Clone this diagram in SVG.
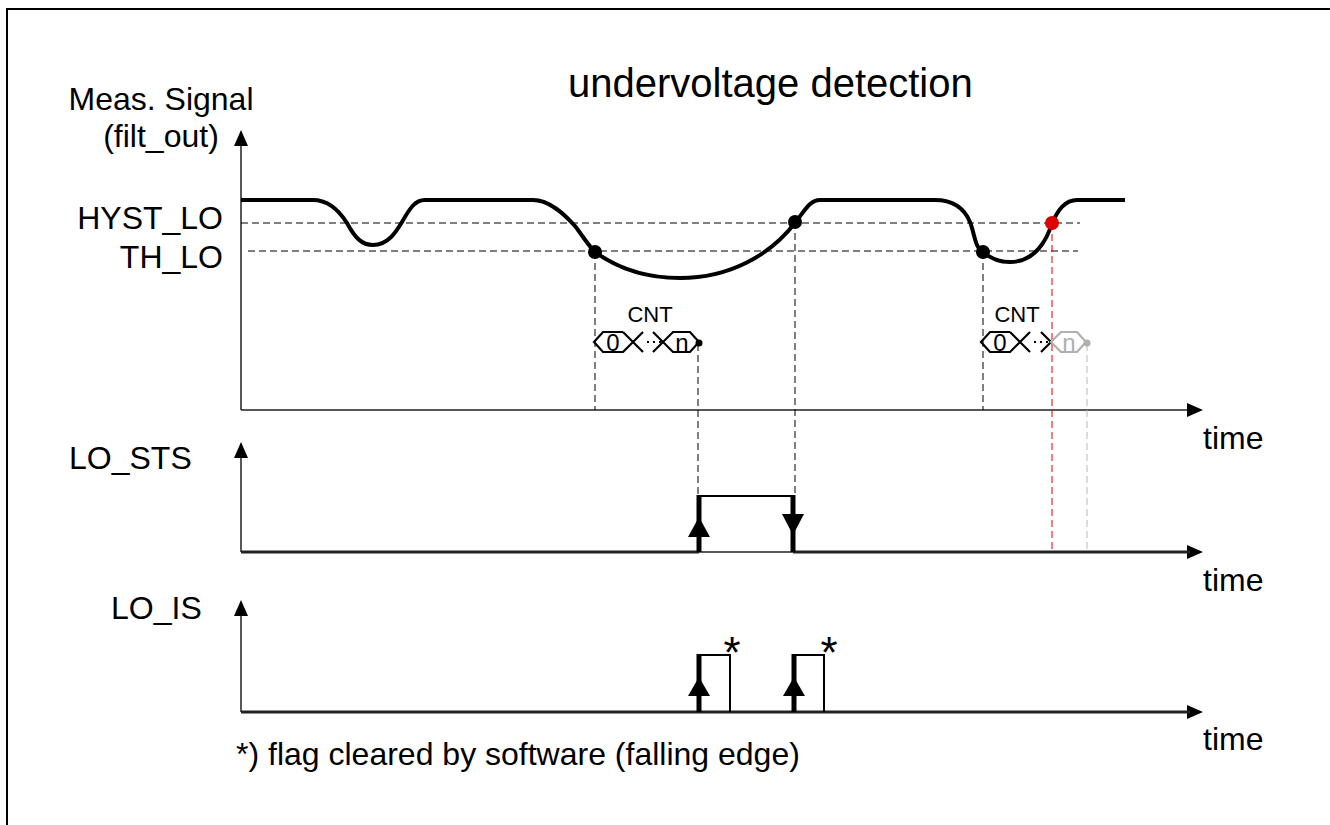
<svg xmlns="http://www.w3.org/2000/svg" width="1330" height="825" viewBox="0 0 1330 825">
<defs>
<style>
text{font-family:"Liberation Sans",Arial,sans-serif;fill:#000}
.lbl{font-size:32px}
.title{font-size:40px}
.cnt{font-size:22px}
.hexd{font-size:24px}
.star{font-size:44px}
.axis{stroke:#222;stroke-width:1.5;fill:none}
.dash{stroke:#000;stroke-width:1;stroke-dasharray:7 4;fill:none}
.sig{stroke:#000;stroke-width:4;fill:none;stroke-linejoin:round}
.thick{stroke:#000;stroke-width:5;fill:none}
.thin{stroke:#000;stroke-width:2;fill:none}
.bus{stroke:#000;stroke-width:2.2;fill:none}
.grey{stroke:#b0b0b0}
</style>
</defs>
<rect width="1330" height="825" fill="#fff"/>
<path d="M7,825 V9 H1330" fill="none" stroke="#000" stroke-width="2"/>

<text class="title" x="568" y="97">undervoltage detection</text>

<g id="labels">
<text class="lbl" x="161" y="110" text-anchor="middle">Meas. Signal</text>
<text class="lbl" x="161" y="147" text-anchor="middle">(filt_out)</text>
<text class="lbl" x="223" y="229" text-anchor="end">HYST_LO</text>
<text class="lbl" x="223" y="268" text-anchor="end">TH_LO</text>
<text class="lbl" x="69" y="469">LO_STS</text>
<text class="lbl" x="111" y="619">LO_IS</text>
<text class="lbl" x="1203" y="449">time</text>
<text class="lbl" x="1203" y="591">time</text>
<text class="lbl" x="1203" y="750">time</text>
<text class="lbl" x="236" y="765">*) flag cleared by software (falling edge)</text>
</g>

<g id="axes">
<path class="axis" d="M241,410 V144 M241,410 H1190"/>
<path d="M234,146 L241,130 L248,146 Z M1187,403 L1203,410 L1187,417 Z" fill="#000"/>
<path class="axis" d="M241,552 V456 M241,552 H1190"/>
<path d="M234,458 L241,442 L248,458 Z M1187,545 L1203,552 L1187,559 Z" fill="#000"/>
<path class="axis" d="M241,712 V614 M241,712 H1190"/>
<path d="M234,616 L241,600 L248,616 Z M1187,705 L1203,712 L1187,719 Z" fill="#000"/>
</g>

<g id="thresholds">
<path class="dash" d="M241,223 H1080"/>
<path class="dash" d="M248,251 H1078"/>
</g>

<g id="signal">
<path class="sig" d="M241,200 H313 C330,200 340,212 347,223 C355,238 362,245 373,245 C388,245 396,232 402,222 C410,208 415,200 425,200 H533 C550,200 565,215 575,226 C582,235 588,245 595,252 C620,270 650,278 680,278 C730,278 770,255 795,223 C805,210 810,200 820,200 H935 C955,200 965,210 970,222 C975,235 975,248 983,252 C990,258 1000,262 1010,262 C1035,262 1047,240 1052,223 C1058,210 1065,200 1077,200 H1125"/>
<circle cx="595" cy="252" r="7" fill="#000"/>
<circle cx="795" cy="222" r="7" fill="#000"/>
<circle cx="983" cy="252" r="7" fill="#000"/>
<circle cx="1052" cy="223" r="7" fill="#e00000"/>
</g>

<g id="connectors">
<path class="dash" d="M595,252 V410"/>
<path class="dash" d="M698,344 V495"/>
<path class="dash" d="M795,222 V495"/>
<path class="dash" d="M983,252 V410"/>
<path class="dash" d="M1052,223 V552" style="stroke:#e00000"/>
<path class="dash" d="M1087,344 V552" style="stroke:#b8b8b8"/>
</g>

<g id="cnt1">
<text class="cnt" x="650" y="322" text-anchor="middle">CNT</text>
<path class="bus" d="M623,332 H603 L594,342 L603,352 H623 L643,332 M623,352 L643,332 M623,332 L643,352"/>
<path class="bus" d="M647,342 H662" stroke-dasharray="2 4"/>
<path class="bus" d="M653,332 L673,352 H690 L699,342 L690,332 H673 L653,352"/>
<text class="hexd" x="613" y="351" text-anchor="middle">0</text>
<text class="hexd" x="682" y="351" text-anchor="middle">n</text>
<circle cx="699" cy="343" r="3.5" fill="#000"/>
</g>

<g id="cnt2">
<text class="cnt" x="1017" y="322" text-anchor="middle">CNT</text>
<path class="bus" d="M1010,332 H990 L981,342 L990,352 H1010 L1030,332 M1010,352 L1030,332 M1010,332 L1030,352"/>
<path class="bus" d="M1034,342 H1049" stroke-dasharray="2 4"/>
<path class="bus" d="M1041,332 L1051,342 L1041,352"/>
<path class="bus grey" d="M1051,342 L1061,352 H1077 L1086,342 L1077,332 H1061 Z"/>
<text class="hexd" x="1000" y="351" text-anchor="middle">0</text>
<text class="hexd" x="1069" y="351" text-anchor="middle" style="fill:#b0b0b0">n</text>
<circle cx="1087" cy="343" r="3.5" fill="#b0b0b0"/>
</g>

<g id="lo_sts">
<path class="axis" d="M241,552 H699 M793,552 H1190" style="stroke-width:3"/>
<path class="thick" d="M699,552 V495"/>
<path class="thin" d="M699,496 H793"/>
<path class="thick" d="M793,495 V552"/>
<path d="M688,537 L699,517 L710,537 Z" fill="#000"/>
<path d="M782,514 L793,535 L804,514 Z" fill="#000"/>
</g>

<g id="lo_is">
<path class="axis" d="M241,712 H1190" style="stroke-width:3"/>
<path class="thick" d="M699,712 V654"/>
<path class="thin" d="M699,655 H730 V712"/>
<path d="M688,696 L699,677 L710,696 Z" fill="#000"/>
<text class="star" x="732" y="668" text-anchor="middle">*</text>
<path class="thick" d="M794,712 V654"/>
<path class="thin" d="M794,655 H824 V712"/>
<path d="M783,696 L794,677 L805,696 Z" fill="#000"/>
<text class="star" x="829" y="668" text-anchor="middle">*</text>
</g>
</svg>
